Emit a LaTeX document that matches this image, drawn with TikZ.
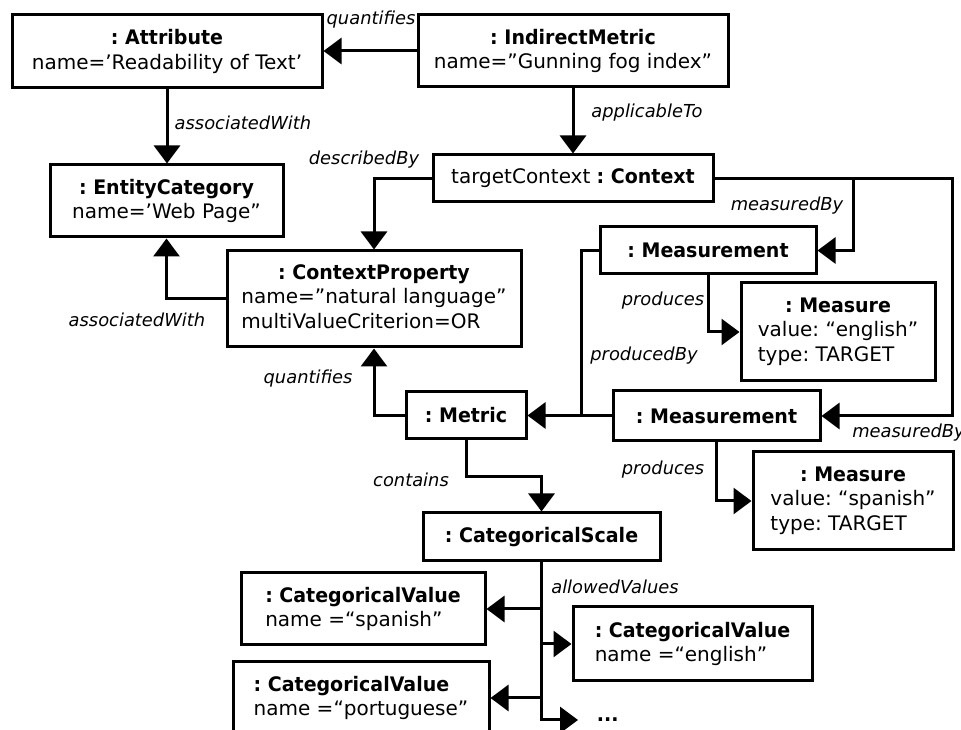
\documentclass[tikz,border=0pt]{standalone}
\usepackage{fontspec}
\setmainfont{DejaVu Sans}[BoldFeatures={FakeStretch=0.95}]
\usetikzlibrary{arrows.meta,calc}
\frenchspacing
\begin{document}
\begin{tikzpicture}[x=0.75pt,y=-0.75pt,
  obj/.style={draw, line width=2.25pt, inner sep=0pt, align=center,
    font=\fontsize{15}{18.5}\selectfont},
  sz/.style 2 args={minimum width=#1*0.75pt, minimum height=#2*0.75pt},
  role/.style={font=\fontsize{13.4}{16}\selectfont\itshape, inner sep=0pt},
  link/.style={line width=2.25pt},
  conn/.style={link, -{Triangle[length=13.5pt,width=19.5pt]}},
]
\useasboundingbox (0,0) rectangle (961,730);
\clip (0,0) rectangle (961,730);

% objects
\node[obj, sz={310}{73}] (attr) at (167,51.5)
  {\textbf{: Attribute}\\name=’Readability of Text’};
\node[obj, sz={310}{72}] (im) at (573,51)
  {\textbf{: IndirectMetric}\\name=”Gunning fog index”};
\node[obj, sz={233}{72}] (ec) at (166.5,201)
  {\textbf{: EntityCategory}\\name=’Web Page”};
\node[obj, sz={280}{47}] (ctx) at (573,178.5)
  {targetContext \textbf{: Context}};
\node[obj, sz={294}{96}] (cprop) at (374,299)
  {\begin{tabular}{@{}l@{}}\multicolumn{1}{@{}c@{}}{\textbf{: ContextProperty}}\\
   name=”natural language”\\ multiValueCriterion=OR\end{tabular}};
\node[obj, sz={120}{47}] (metric) at (466,415.5) {\textbf{: Metric}};
\node[obj, sz={216}{47}] (m1) at (708,250.5) {\textbf{: Measurement}};
\node[obj, sz={194}{98}] (ms1) at (838,332)
  {\begin{tabular}{@{}l@{}}\multicolumn{1}{@{}c@{}}{\textbf{: Measure}}\\
   value: “english”\\ type: TARGET\end{tabular}};
\node[obj, sz={207}{50}] (m2) at (716.5,416) {\textbf{: Measurement}};
\node[obj, sz={200}{98}] (ms2) at (853,501)
  {\begin{tabular}{@{}l@{}}\multicolumn{1}{@{}c@{}}{\textbf{: Measure}}\\
   value: “spanish”\\ type: TARGET\end{tabular}};
\node[obj, sz={237}{48}] (cs) at (541.5,537) {\textbf{: CategoricalScale}};
\node[obj, align=left, sz={244}{72}] (cv1) at (363,609)
  {\textbf{: CategoricalValue}\\name =“spanish”};
\node[obj, align=left, sz={239}{74}] (cv2) at (692.5,644)
  {\textbf{: CategoricalValue}\\name =“english”};
\node[obj, align=left, sz={256}{72}] (cv3) at (361,698)
  {\textbf{: CategoricalValue}\\name =“portuguese”};
\node[font=\fontsize{15}{18}\selectfont\bfseries, anchor=west,
  inner xsep=14pt, inner ysep=0pt] (dots) at (578,720) {...};

% bend columns
\coordinate (dx) at (374,0);
\coordinate (rx1) at (853,0);
\coordinate (rx2) at (952,0);
\coordinate (px) at (581,0);

% connectors
\draw[conn] (im.west) -- (im.west -| attr.east);
\draw[conn] (attr.south) -- (attr.south |- ec.north);
\draw[conn] (im.south) -- (im.south |- ctx.north);
\draw[conn] (ctx.west) -| (cprop.north -| dx);
\draw[conn] (cprop.west) -| (ec.south);
\draw[conn] (metric.west) -| (cprop.south -| dx);
\draw[conn] (metric.south) -- ++(0,36) -| (cs.north);
\draw[conn] (ctx.east) -- (ctx.east -| rx2) |- (m2.east);
\draw[conn] (ctx.east -| rx1) |- (m1.east);
\draw[conn] (m1.south) |- (ms1.west);
\draw[conn] (m2.south) |- (ms2.west);
\draw[conn] (m1.west) -| (metric.east -| px) -- (metric.east);
\draw[link] (m2.west) -- (m2.west -| px);
\draw[conn] (cs.south) |- (dots.west);
\draw[conn] (cs.south |- cv1.east) -- (cv1.east);
\draw[conn] (cs.south |- cv2.west) -- (cv2.west);
\draw[conn] (cs.south |- cv3.east) -- (cv3.east);

% role labels
\node[role] (l1) at (371,20) {quantifies};
\node[role] (l2) at (243,123) {associatedWith};
\node[role] (l3) at (647,113) {applicableTo};
\node[role] (l4) at (364,160) {describedBy};
\node[role] (l5) at (787,206) {measuredBy};
\node[role] (l6) at (137,320) {associatedWith};
\node[role] (l7) at (308,379) {quantifies};
\node[role] (l8) at (663,301) {produces};
\node[role] (l9) at (644,356) {producedBy};
\node[role, anchor=west] (l10) at (852,433) {measuredBy};
\node[role] (l11) at (663,470) {produces};
\node[role] (l12) at (411,480) {contains};
\node[role] (l13) at (615,587) {allowedValues};
\end{tikzpicture}
\end{document}
